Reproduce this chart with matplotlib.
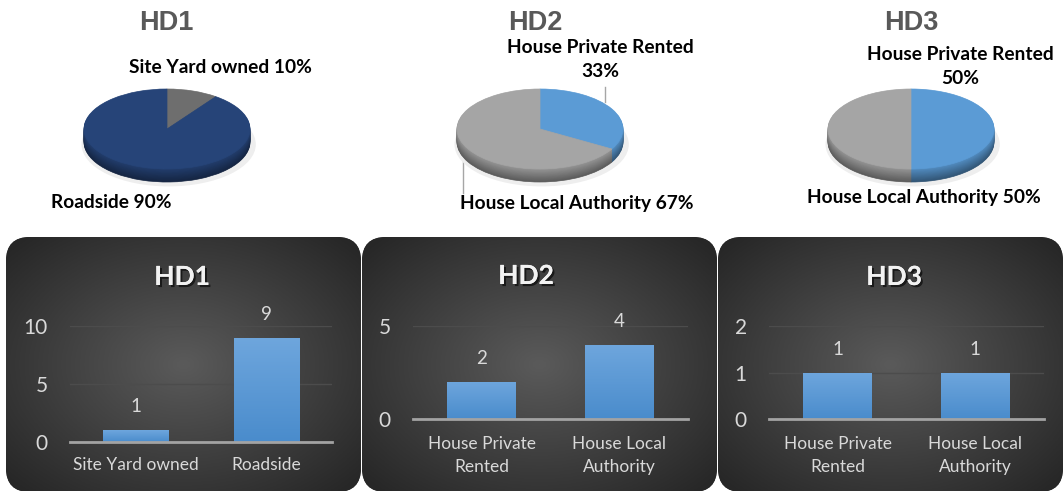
import numpy as np
import matplotlib
matplotlib.use('Agg')
import matplotlib.pyplot as plt
from matplotlib.patches import FancyBboxPatch, Ellipse
from matplotlib.colors import LinearSegmentedColormap, to_rgb
import matplotlib.patheffects as pe

plt.rcParams['font.family'] = ['Lato', 'DejaVu Sans']

W, H = 1064, 491

# data
districts = ['HD1', 'HD2', 'HD3']
hd1_cats = ['Site Yard owned', 'Roadside']
hd1_vals = [1, 9]
hd2_cats = ['House Private Rented', 'House Local Authority']
hd2_vals = [2, 4]
hd3_cats = ['House Private Rented', 'House Local Authority']
hd3_vals = [1, 1]
hd1_ticks = ['Site Yard owned', 'Roadside']
hd2_ticks = ['House Private\nRented', 'House Local\nAuthority']
hd3_ticks = ['House Private\nRented', 'House Local\nAuthority']
y_max = [10, 5, 2]
y_step = [5, 5, 1]

pie_colors = [['#6e6e6e', '#264478'], ['#5b9bd5', '#a5a5a5'], ['#5b9bd5', '#a5a5a5']]


def rect(x0, y0, x1, y1):
    # pixel box (top-left origin) -> figure fraction
    return [x0 / W, 1 - y1 / H, (x1 - x0) / W, (y1 - y0) / H]


def shade(c, f):
    r, g, b = to_rgb(c)
    return (r * f, g * f, b * f)


def pct(vals):
    tot = float(sum(vals))
    return [f'{v / tot * 100:.0f}%' for v in vals]


fig = plt.figure(figsize=(W / 100, H / 100), dpi=100)
bg = fig.add_axes([0, 0, 1, 1], zorder=0)

# dark rounded panels with a radial gradient
yy, xx = np.mgrid[-1:1:200j, -1:1:200j]
rad = np.clip(np.sqrt(xx ** 2 + yy ** 2) / 1.35, 0, 1)
panel_cmap = LinearSegmentedColormap.from_list('panel', ['#5a5a5a', '#272727'])
r = 24
for x0, x1 in [(6, 361), (362, 717), (718, 1063)]:
    y0, y1 = 237, 492
    box = FancyBboxPatch((x0 + r, y0 + r), x1 - x0 - 2 * r, y1 - y0 - 2 * r,
                         boxstyle=f'round,pad={r},rounding_size={r}',
                         facecolor='#2a2a2a', edgecolor='none')
    bg.add_patch(box)
    im = bg.imshow(rad, cmap=panel_cmap, extent=(x0, x1, y1, y0), aspect='auto', zorder=1)
    im.set_clip_path(box)
bg.set_xlim(0, W)
bg.set_ylim(H, 0)
bg.set_aspect('auto')
bg.axis('off')


def draw_pie(vals, colors, cx, cy, rx, ry, depth):
    d = depth / ry
    ax = fig.add_axes(rect(cx - 1.25 * rx, cy - 1.4 * ry, cx + 1.25 * rx, cy + 1.4 * ry + depth), zorder=2)
    ax.set_facecolor('none')
    ax.add_patch(Ellipse((0.02, -d - 0.06), 2.1, 2.1, facecolor='#eeeeee', edgecolor='none'))
    n = 16
    for k in range(n, -1, -1):
        if k == 0:
            cols = colors
        else:
            f = 0.9 - 0.35 * (k / n)
            cols = [shade(c, f) for c in colors]
        wedges, _ = ax.pie(vals, colors=cols, startangle=90, counterclock=False,
                           center=(0, -d * k / n), radius=1)
        for w in wedges:
            w.set_edgecolor(w.get_facecolor())
            w.set_linewidth(0.5)
    ax.set_aspect('auto')
    ax.set_xlim(-1.25, 1.25)
    ax.set_ylim(-1.4 - d, 1.4)
    ax.axis('off')


pie_vals = [hd1_vals, hd2_vals, hd3_vals]
pie_cx = [167, 540, 911]
for vals, cols, cx in zip(pie_vals, pie_colors, pie_cx):
    draw_pie(vals, cols, cx, 129, 83, 40, 13)

# pie titles
for name, x in zip(districts, [166, 535, 911]):
    bg.text(x, 23, name, ha='center', va='center', fontsize=19.5, fontweight='bold',
            color='#595959', family='Liberation Sans')

lab = dict(ha='center', va='center', fontsize=13.8, fontweight='bold', color='black')
p1, p2, p3 = pct(hd1_vals), pct(hd2_vals), pct(hd3_vals)
bg.text(220, 67, f'{hd1_cats[0]} {p1[0]}', **lab)
bg.text(111, 203, f'{hd1_cats[1]} {p1[1]}', **lab)
bg.text(600, 59, f'{hd2_cats[0]}\n{p2[0]}', linespacing=1.5, **lab)
bg.text(577, 203, f'{hd2_cats[1]} {p2[1]}', **lab)
bg.text(960, 66, f'{hd3_cats[0]}\n{p3[0]}', linespacing=1.5, **lab)
bg.text(924, 198, f'{hd3_cats[1]} {p3[1]}', **lab)
bg.plot([605, 605], [87, 102], color='#a6a6a6', lw=1)
bg.plot([463, 463], [159, 193], color='#a6a6a6', lw=1)

# bar charts
grad = np.linspace(0, 1, 64).reshape(-1, 1)
bar_cmap = LinearSegmentedColormap.from_list('bar', ['#4a8ccc', '#6ea6dd'])
shadow = [pe.withSimplePatchShadow(offset=(1.5, -1.5), shadow_rgbFace='black', alpha=0.6), pe.Normal()]


def draw_bars(box, vals, ticks, ymax, ystep, title, tx, ty, xpad):
    ax = fig.add_axes(rect(*box), zorder=3)
    ax.set_facecolor('none')
    x = np.arange(len(vals))
    bars = ax.bar(x, vals, width=0.5, color='#5b9bd5', zorder=2)
    for b in bars:
        im = ax.imshow(grad, cmap=bar_cmap, origin='lower', aspect='auto', zorder=2.5,
                       extent=(b.get_x(), b.get_x() + b.get_width(), 0, b.get_height()))
        im.set_clip_path(b)
    ax.set_xlim(-0.5, len(vals) - 0.5)
    ax.set_ylim(0, ymax * 1.003)
    ax.set_yticks(np.arange(0, ymax + 0.01, ystep))
    ax.set_xticks(x, ticks)
    for t in ax.get_xticklabels():
        t.set_linespacing(1.55)
    ax.grid(axis='y', color='#4c4c4c', lw=1)
    ax.set_axisbelow(True)
    for s in ['left', 'right', 'top']:
        ax.spines[s].set_visible(False)
    ax.spines['bottom'].set_color('#a3a3a3')
    ax.spines['bottom'].set_linewidth(2)
    ax.spines['bottom'].set_zorder(4)
    ax.tick_params(axis='y', length=0, colors='#d9d9d9', labelsize=15, pad=16)
    ax.tick_params(axis='x', length=0, colors='#d9d9d9', labelsize=12.5, pad=xpad)
    for xi, v in zip(x, vals):
        ax.annotate(f'{v}', (xi, v), xytext=(0, 17), textcoords='offset points', ha='center',
                    va='center', color='#d9d9d9', fontsize=13.5, annotation_clip=False)
    bg.text(tx, ty, title, ha='center', va='center', fontsize=19, fontweight='bold',
            color='#f2f2f2', path_effects=shadow)


draw_bars((70, 326, 332, 442), hd1_vals, hd1_ticks, y_max[0], y_step[0], districts[0], 182, 277, 11)
draw_bars((413, 326, 688, 419), hd2_vals, hd2_ticks, y_max[1], y_step[1], districts[1], 526, 276, 12)
draw_bars((769, 326, 1044, 419), hd3_vals, hd3_ticks, y_max[2], y_step[2], districts[2], 894, 277, 12)

fig.savefig('out.png', dpi=100)
